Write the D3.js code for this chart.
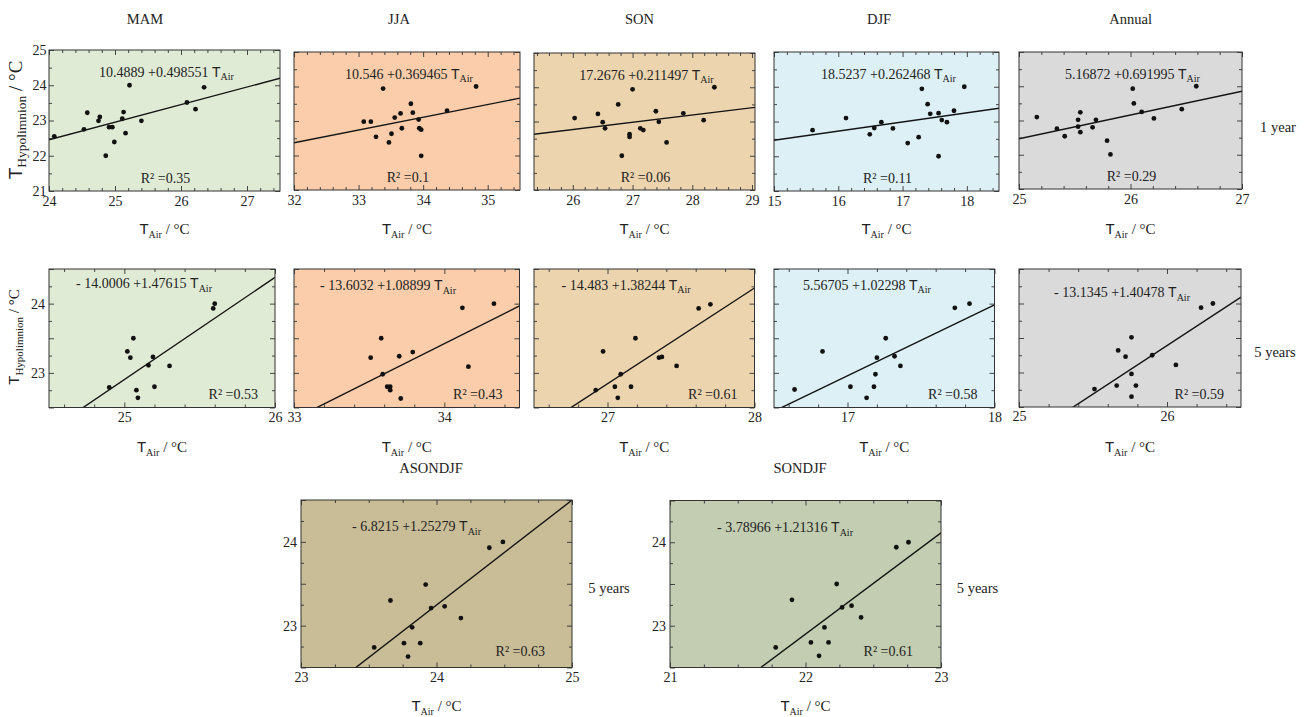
<!DOCTYPE html>
<html><head><meta charset="utf-8">
<script src="https://cdn.jsdelivr.net/npm/d3@7"></script>
<style>
body{margin:0;background:#fff}
svg{display:block}
text{font-family:"Liberation Serif","Times New Roman",serif;fill:#222}
</style>
</head><body><svg id="c" width="1308" height="717"></svg>
<script>
// ---------------- DATA ----------------
const seasonTitles = ["MAM", "JJA", "SON", "DJF", "Annual"];
const combinedTitles = ["ASONDJF", "SONDJF"];
const periodLabels = ["1 year", "5 years"];

// 1-year averages (row 1)
const mam1X = [24.08,24.53,24.58,24.75,24.77,24.86,24.91,24.96,24.99,25.11,25.13,25.16,25.22,25.40,26.09,26.22,26.35];
const mam1Y = [22.55,22.75,23.22,22.99,23.10,22.00,22.81,22.81,22.39,23.05,23.24,22.64,24.00,22.99,23.51,23.32,23.94];
const jja1X = [33.08,33.19,33.27,33.38,33.47,33.51,33.56,33.65,33.67,33.81,33.84,33.93,33.94,33.97,33.97,34.37,34.82];
const jja1Y = [22.98,22.98,22.54,23.94,22.38,22.63,23.10,23.22,22.79,23.50,23.24,23.04,22.79,22.75,21.99,23.30,24.00];
const son1X = [26.03,26.42,26.50,26.54,26.76,26.82,26.95,26.95,27.00,27.13,27.18,27.39,27.44,27.57,27.85,28.19,28.37];
const son1Y = [23.10,23.22,22.98,22.80,23.50,22.00,22.63,22.55,23.94,22.80,22.75,23.30,22.99,22.39,23.24,23.04,24.00];
const djf1X = [15.60,16.12,16.49,16.56,16.67,16.85,17.08,17.25,17.30,17.39,17.43,17.56,17.56,17.61,17.69,17.80,17.96];
const djf1Y = [22.75,23.10,22.63,22.81,22.98,22.80,22.38,22.55,23.94,23.50,23.22,23.24,22.00,23.04,22.98,23.31,24.00];
const ann1X = [25.16,25.34,25.41,25.53,25.53,25.55,25.55,25.66,25.69,25.79,25.82,26.02,26.03,26.10,26.21,26.46,26.59];
const ann1Y = [23.10,22.76,22.54,22.82,23.02,23.24,22.66,22.80,23.02,22.41,22.01,23.93,23.50,23.25,23.06,23.33,24.00];

// 5-year averages (row 2)
const mam5X = [24.90,25.02,25.04,25.06,25.08,25.09,25.16,25.19,25.20,25.30,25.59,25.60];
const mam5Y = [22.79,23.31,23.22,23.50,22.75,22.64,23.11,23.23,22.80,23.10,23.93,24.00];
const jja5X = [33.51,33.58,33.59,33.62,33.64,33.64,33.70,33.71,33.79,34.12,34.16,34.33];
const jja5Y = [23.22,23.50,22.98,22.80,22.80,22.75,23.24,22.63,23.30,23.94,23.09,24.00];
const son5X = [26.92,26.97,27.05,27.07,27.09,27.16,27.19,27.35,27.37,27.47,27.62,27.70];
const son5Y = [22.75,23.31,22.80,22.64,22.98,22.80,23.50,23.22,23.23,23.10,23.93,23.99];
const djf5X = [16.64,16.83,17.02,17.13,17.18,17.19,17.20,17.26,17.32,17.36,17.73,17.83];
const djf5Y = [22.76,23.31,22.80,22.64,22.80,22.98,23.22,23.50,23.24,23.10,23.94,24.00];
const ann5X = [25.51,25.66,25.67,25.72,25.76,25.76,25.76,25.79,25.90,26.06,26.23,26.31];
const ann5Y = [22.76,22.81,23.32,23.23,23.51,22.98,22.65,22.81,23.25,23.11,23.94,24.00];

// 5-year combined seasons (row 3)
const asondjfX = [23.54,23.66,23.76,23.79,23.82,23.88,23.92,23.96,24.06,24.18,24.39,24.49];
const asondjfY = [22.74,23.30,22.79,22.63,22.98,22.79,23.49,23.21,23.23,23.09,23.93,24.00];
const sondjfX = [21.78,21.90,22.04,22.10,22.14,22.17,22.23,22.27,22.34,22.41,22.67,22.76];
const sondjfY = [22.74,23.31,22.80,22.64,22.98,22.80,23.50,23.22,23.24,23.10,23.94,24.00];

// regression coefficients and R²
const intercepts1 = [10.4889, 10.546, 17.2676, 18.5237, 5.16872];
const slopes1     = [0.498551, 0.369465, 0.211497, 0.262468, 0.691995];
const r2_1        = ["0.35", "0.1", "0.06", "0.11", "0.29"];
const intercepts5 = [-14.0006, -13.6032, -14.483, 5.56705, -13.1345];
const slopes5     = [1.47615, 1.08899, 1.38244, 1.02298, 1.40478];
const r2_5        = ["0.53", "0.43", "0.61", "0.58", "0.59"];
const interceptsC = [-6.8215, -3.78966];
const slopesC     = [1.25279, 1.21316];
const r2_C        = ["0.63", "0.61"];

// ---------------- LAYOUT ----------------
const fills = ["#e0ebd5", "#fbcdaa", "#ecd4ae", "#dcf0f5", "#dadada"];
const fillsC = ["#c8bd96", "#c2cdb1"];

const row1 = [
  {l:49, r:280, t:50, b:191, xd:[24,27.5], tx:145},
  {l:294, r:520, t:52, b:190, xd:[32,35.5], tx:399},
  {l:534, r:755, t:53, b:190, xd:[25.35,29.05], tx:639.5},
  {l:774, r:999, t:52, b:191, xd:[15,18.5], tx:879},
  {l:1019, r:1242, t:52, b:189, xd:[25,27], tx:1130.7}
];
const row2 = [
  {l:49, r:275, t:269, b:407.5, xd:[24.5,26], eqDx:27, eqY:288},
  {l:294, r:519.5, t:269, b:407.5, xd:[33,34.5], eqDx:26, eqY:290},
  {l:534, r:754.5, t:269, b:407.5, xd:[26.5,28], eqDx:27.6, eqY:289.5},
  {l:774, r:994.5, t:269, b:407.5, xd:[16.5,18], eqDx:29, eqY:289.5},
  {l:1019, r:1241, t:269, b:407, xd:[25,26.5], eqDx:35, eqY:297}
];
const row3 = [
  {l:301, r:572, t:500, b:667.5, xd:[23,25], tx:431, eqDx:51, eqY:531, r2Dx:27, side:609},
  {l:670, r:941, t:500.5, b:667.5, xd:[21,23], tx:800, eqDx:47, eqY:532, r2Dx:28, side:977.5}
];

const svg = d3.select("#c");
const defs = svg.append("defs");
const SANS = "Liberation Sans, Arial, sans-serif";
let clipId = 0;

function fmtEq(a, b) {
  const aS = a < 0 ? "- " + Math.abs(a) : String(a);
  return aS + " +" + b + " ";
}

function ticksOf(d, step) {
  const k0 = Math.ceil(d[0] / step - 1e-9), k1 = Math.floor(d[1] / step + 1e-9);
  return d3.range(k0, k1 + 1).map(k => +(k * step).toFixed(6));
}
function isMajor(v, m) { return Math.abs(v - Math.round(v / m) * m) < 1e-6; }

function tAirText(x, y, anchor, big, small) {
  const t = svg.append("text").attr("x", x).attr("y", y).attr("text-anchor", anchor);
  t.append("tspan").attr("font-family", SANS).attr("font-size", big).text("T");
  t.append("tspan").attr("font-size", small).attr("dy", 4).text("Air");
  t.append("tspan").attr("font-size", big).attr("dy", -4).text(" / °C");
  return t;
}

function panel(p) {
  const x = d3.scaleLinear().domain(p.xd).range([p.l, p.r]);
  const y = d3.scaleLinear().domain(p.yd).range([p.b, p.t]);
  const g = svg.append("g");
  g.append("rect").attr("x", p.l).attr("y", p.t).attr("width", p.r - p.l).attr("height", p.b - p.t)
    .attr("fill", p.fill);

  const xT = ticksOf(p.xd, p.xStep), yT = ticksOf(p.yd, p.yStep);
  const xMaj = xT.filter(v => isMajor(v, p.xMajor)), xMin = xT.filter(v => !isMajor(v, p.xMajor));
  const yMaj = yT.filter(v => isMajor(v, p.yMajor)), yMin = yT.filter(v => !isMajor(v, p.yMajor));

  function styleAxis(a) {
    a.select(".domain").remove();
    a.attr("font-family", null).attr("font-size", 14).attr("color", "#333");
    a.selectAll("line").attr("stroke-width", 0.9);
  }
  // bottom
  g.append("g").attr("transform", `translate(0,${p.b})`)
    .call(d3.axisBottom(x).tickValues(xMaj).tickSize(-5).tickPadding(p.xPad)
      .tickFormat(p.xLabels ? d3.format("d") : ""))
    .call(styleAxis).call(a => a.selectAll("text").attr("fill", "#222"));
  g.append("g").attr("transform", `translate(0,${p.b})`)
    .call(d3.axisBottom(x).tickValues(xMin).tickSize(-3).tickFormat("")).call(styleAxis);
  // top
  g.append("g").attr("transform", `translate(0,${p.t})`)
    .call(d3.axisTop(x).tickValues(xMaj).tickSize(-5).tickFormat("")).call(styleAxis);
  g.append("g").attr("transform", `translate(0,${p.t})`)
    .call(d3.axisTop(x).tickValues(xMin).tickSize(-3).tickFormat("")).call(styleAxis);
  // left
  g.append("g").attr("transform", `translate(${p.l},0)`)
    .call(d3.axisLeft(y).tickValues(yMaj).tickSize(-5).tickPadding(p.yPad)
      .tickFormat(p.yLabels ? (v => Number.isInteger(v) ? String(v) : "") : ""))
    .call(styleAxis).call(a => a.selectAll("text").attr("fill", "#222"));
  g.append("g").attr("transform", `translate(${p.l},0)`)
    .call(d3.axisLeft(y).tickValues(yMin).tickSize(-3).tickFormat("")).call(styleAxis);
  // right
  g.append("g").attr("transform", `translate(${p.r},0)`)
    .call(d3.axisRight(y).tickValues(yMaj).tickSize(-5).tickFormat("")).call(styleAxis);
  g.append("g").attr("transform", `translate(${p.r},0)`)
    .call(d3.axisRight(y).tickValues(yMin).tickSize(-3).tickFormat("")).call(styleAxis);

  // regression line, clipped
  const id = "clip" + (clipId++);
  defs.append("clipPath").attr("id", id).append("rect")
    .attr("x", p.l).attr("y", p.t).attr("width", p.r - p.l).attr("height", p.b - p.t);
  const line = d3.line().x(d => x(d)).y(d => y(p.a + p.s * d));
  g.append("path").attr("clip-path", `url(#${id})`).datum(p.xd)
    .attr("d", line).attr("fill", "none").attr("stroke", "#151515").attr("stroke-width", 1.4);

  // points
  g.selectAll("circle.pt").data(p.X.map((v, i) => [v, p.Y[i]])).join("circle")
    .attr("class", "pt").attr("cx", d => x(d[0])).attr("cy", d => y(d[1])).attr("r", 2.4).attr("fill", "#111");

  // frame
  g.append("rect").attr("x", p.l).attr("y", p.t).attr("width", p.r - p.l).attr("height", p.b - p.t)
    .attr("fill", "none").attr("stroke", "#333").attr("stroke-width", 1);

  // equation
  const eq = g.append("text").attr("x", p.eqX).attr("y", p.eqY).attr("text-anchor", p.eqAnchor)
    .attr("font-size", 14);
  eq.append("tspan").text(fmtEq(p.a, p.s));
  eq.append("tspan").attr("font-family", SANS).attr("font-size", 14).text("T");
  eq.append("tspan").attr("font-size", 10).attr("dy", 3.5).text("Air");
  // R²
  g.append("text").attr("x", p.r2X).attr("y", p.r2Y).attr("text-anchor", p.r2Anchor)
    .attr("font-size", 14).text("R² =" + p.r2);

  // x axis title
  tAirText((p.l + p.r) / 2, p.xtY, "middle", 15, 10);
}

const xs1 = [mam1X, jja1X, son1X, djf1X, ann1X], ys1 = [mam1Y, jja1Y, son1Y, djf1Y, ann1Y];
const xs5 = [mam5X, jja5X, son5X, djf5X, ann5X], ys5 = [mam5Y, jja5Y, son5Y, djf5Y, ann5Y];
const xsC = [asondjfX, sondjfX], ysC = [asondjfY, sondjfY];

row1.forEach((L, i) => {
  panel({...L, yd:[21,25], X:xs1[i], Y:ys1[i], a:intercepts1[i], s:slopes1[i], r2:r2_1[i], fill:fills[i],
    xStep:0.2, xMajor:1, yStep:0.5, yMajor:1, xLabels:true, yLabels:i === 0, xPad:5, yPad:2.5,
    eqX:(L.l + L.r) / 2 + 2, eqY:L.t + 26.5, eqAnchor:"middle",
    r2X:(L.l + L.r) / 2 + 1, r2Y:L.b - 8.5, r2Anchor:"middle", xtY:234});
  svg.append("text").attr("x", L.tx).attr("y", 24).attr("text-anchor", "middle").attr("font-size", 14.5)
    .text(seasonTitles[i]);
});
row2.forEach((L, i) => {
  panel({...L, yd:[22.5,24.5], X:xs5[i], Y:ys5[i], a:intercepts5[i], s:slopes5[i], r2:r2_5[i], fill:fills[i],
    xStep:0.2, xMajor:1, yStep:0.25, yMajor:0.5, xLabels:true, yLabels:i === 0, xPad:4.5, yPad:4,
    eqX:L.l + L.eqDx, eqY:L.eqY, eqAnchor:"start",
    r2X:L.r - 17, r2Y:398.5, r2Anchor:"end", xtY:452});
});
row3.forEach((L, i) => {
  panel({...L, yd:[22.5,24.5], X:xsC[i], Y:ysC[i], a:interceptsC[i], s:slopesC[i], r2:r2_C[i], fill:fillsC[i],
    xStep:0.25, xMajor:1, yStep:0.25, yMajor:0.5, xLabels:true, yLabels:true, xPad:5, yPad:4,
    eqX:L.l + L.eqDx, eqY:L.eqY, eqAnchor:"start",
    r2X:L.r - L.r2Dx, r2Y:656, r2Anchor:"end", xtY:711});
  svg.append("text").attr("x", L.tx).attr("y", 473).attr("text-anchor", "middle").attr("font-size", 14.5)
    .text(combinedTitles[i]);
  svg.append("text").attr("x", L.side).attr("y", 593).attr("text-anchor", "middle").attr("font-size", 14.5)
    .text(periodLabels[1]);
});

// period labels on the right
svg.append("text").attr("x", 1278).attr("y", 131.5).attr("text-anchor", "middle").attr("font-size", 14.5).text(periodLabels[0]);
svg.append("text").attr("x", 1275).attr("y", 356.5).attr("text-anchor", "middle").attr("font-size", 14.5).text(periodLabels[1]);

// y axis titles
function yTitle(cx, cy, big, small) {
  const t = svg.append("text").attr("transform", `translate(${cx},${cy}) rotate(-90)`).attr("text-anchor", "middle");
  t.append("tspan").attr("font-family", SANS).attr("font-size", big).text("T");
  t.append("tspan").attr("font-size", small).attr("dy", 4).text("Hypolimnion");
  t.append("tspan").attr("font-size", big).attr("dy", -4).text(" / °C");
}
yTitle(22, 120, 19, 13.5);
yTitle(19, 337, 15, 11);
</script>
</body></html>
